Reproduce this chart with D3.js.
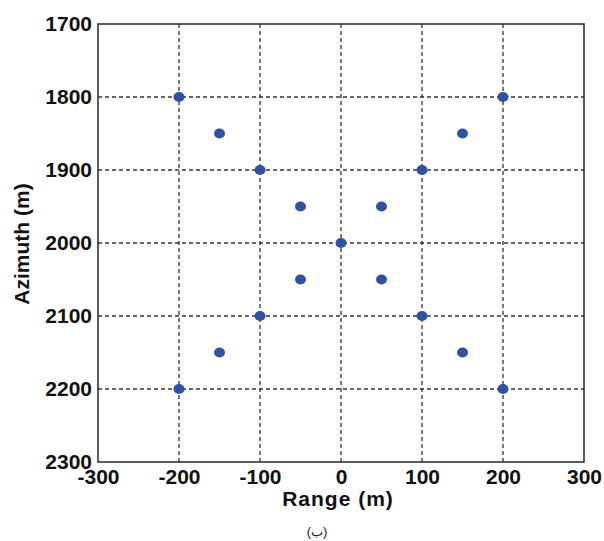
<!DOCTYPE html>
<html>
<head>
<meta charset="utf-8">
<title>Azimuth vs Range</title>
<script src="https://cdn.jsdelivr.net/npm/d3@7"></script>
<style>
    body { margin: 0; background: #fff; }
    text { font-family: "Liberation Sans", Arial, sans-serif; }
</style>
</head>
<body>
<svg id="chart" width="604" height="541"></svg>
<script>
// data: point targets (range, azimuth)
var rangeVals   = [-200, 200, -150, 150, -100, 100, -50, 50, 0, -50, 50, -100, 100, -150, 150, -200, 200];
var azimuthVals = [1800, 1800, 1850, 1850, 1900, 1900, 1950, 1950, 2000, 2050, 2050, 2100, 2100, 2150, 2150, 2200, 2200];
var xTicks = [-300, -200, -100, 0, 100, 200, 300];
var yTicks = [1700, 1800, 1900, 2000, 2100, 2200, 2300];

var margin = {left: 98, top: 24, right: 20, bottom: 79};
var svg = d3.select('#chart');
var width = +svg.attr('width') - margin.left - margin.right;   // 486
var height = +svg.attr('height') - margin.top - margin.bottom; // 438

var g = svg.append('g').attr('transform', 'translate(' + margin.left + ',' + margin.top + ')');

var x = d3.scaleLinear().domain([-300, 300]).range([0, width]);
var y = d3.scaleLinear().domain([1700, 2300]).range([0, height]);
var fmt = d => String(d); // plain hyphen, no thousands comma

//gridlines
g.append('g').selectAll('line').data(xTicks.slice(1, -1)).enter().append('line')
    .attr('x1', d => x(d)).attr('x2', d => x(d))
    .attr('y1', 0).attr('y2', height)
    .attr('stroke', '#333').attr('stroke-width', 1.3).attr('stroke-dasharray', '4,3');
g.append('g').selectAll('line').data(yTicks.slice(1, -1)).enter().append('line')
    .attr('y1', d => y(d)).attr('y2', d => y(d))
    .attr('x1', 0).attr('x2', width)
    .attr('stroke', '#333').attr('stroke-width', 1.3).attr('stroke-dasharray', '4,3');

//axes
var xAxis = g.append('g')
    .attr('transform', 'translate(0,' + height + ')')
    .call(d3.axisBottom(x).tickValues(xTicks).tickFormat(fmt).tickSize(0).tickPadding(7));
var yAxis = g.append('g')
    .call(d3.axisLeft(y).tickValues(yTicks).tickFormat(fmt).tickSize(0).tickPadding(6));
[xAxis, yAxis].forEach(function (a) {
    a.select('.domain').remove();
    a.selectAll('text')
        .attr('font-family', '"Liberation Sans", Arial, sans-serif')
        .attr('font-size', 21).attr('font-weight', 'bold').attr('fill', '#111');
});
yAxis.selectAll('text').attr('dy', '0.3em');

//frame
g.append('rect')
    .attr('width', width).attr('height', height)
    .attr('fill', 'none').attr('stroke', '#333').attr('stroke-width', 1.6);

//points
g.selectAll('ellipse.pt')
    .data(rangeVals.map((r, i) => ({r: r, a: azimuthVals[i]})))
    .enter().append('ellipse')
    .attr('class', 'pt')
    .attr('cx', d => x(d.r)).attr('cy', d => y(d.a))
    .attr('rx', 5.5).attr('ry', 5)
    .attr('fill', '#3151a3');

//axis titles
svg.append('text')
    .attr('x', margin.left + width / 2 - 3).attr('y', 506)
    .attr('text-anchor', 'middle')
    .attr('font-size', 21).attr('font-weight', 'bold').attr('letter-spacing', 1)
    .attr('fill', '#111')
    .text('Range (m)');

svg.append('text')
    .attr('transform', 'translate(29,' + 244 + ') rotate(-90)')
    .attr('text-anchor', 'middle')
    .attr('font-size', 21).attr('font-weight', 'bold')
    .attr('fill', '#111')
    .text('Azimuth (m)');

//caption
svg.append('text')
    .attr('x', 317).attr('y', 536)
    .attr('text-anchor', 'middle')
    .attr('font-size', 13).attr('fill', '#222')
    .text('(ب)');
</script>
</body>
</html>
